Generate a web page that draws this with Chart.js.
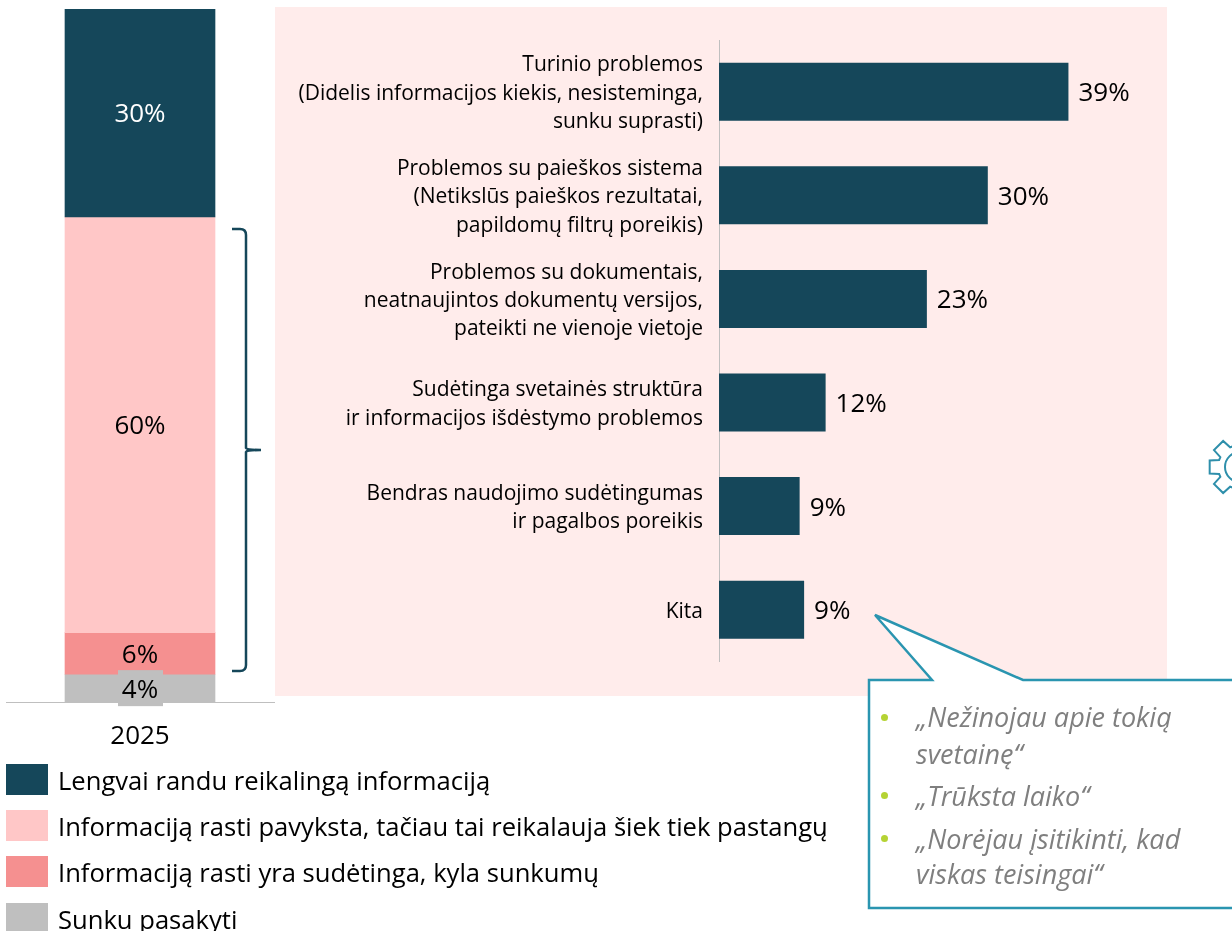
<!DOCTYPE html>
<html><head><meta charset="utf-8">
<script src="https://cdn.jsdelivr.net/npm/chart.js@4"></script>
<style>
html,body{margin:0;padding:0;background:#fff;width:1232px;height:931px;overflow:hidden;font-family:"Open Sans",sans-serif;color:#000}
#panel{position:absolute;left:275px;top:7px;width:892px;height:689px;background:#FFECEB}
canvas{position:absolute;display:block}
#c1{left:0;top:0}
#c2{left:275px;top:7px}
svg{position:absolute;left:0;top:0}
.lg{position:absolute;left:6px;width:42px;height:31px}
.lt{position:absolute;left:58px;font-size:25.6px;line-height:31px;white-space:nowrap}
.q{position:absolute;left:916px;font-size:27px;font-style:italic;color:#7F7F7F;white-space:nowrap;line-height:36px}
.b{position:absolute;left:881px;width:7px;height:7px;border-radius:50%;background:#B5D334}
</style></head><body>
<div id="panel"></div>
<canvas id="c1" width="275" height="760" style="width:275px;height:760px"></canvas>
<canvas id="c2" width="892" height="713" style="width:892px;height:713px"></canvas>
<svg id="ov" width="1232" height="931"></svg>
<div id="legend"></div>
<div id="quotes"></div>
<script>
const years = ['2025'];
const seriesNames = ['Lengvai randu reikalingą informaciją','Informaciją rasti pavyksta, tačiau tai reikalauja šiek tiek pastangų','Informaciją rasti yra sudėtinga, kyla sunkumų','Sunku pasakyti'];
const seriesValues = [30,60,6,4];
const seriesColors = ['#15475A','#FFC7C7','#F59090','#BFBFBF'];
const problemLabels = [
 ['Turinio problemos','(Didelis informacijos kiekis, nesisteminga,','sunku suprasti)'],
 ['Problemos su paieškos sistema','(Netikslūs paieškos rezultatai,','papildomų filtrų poreikis)'],
 ['Problemos su dokumentais,','neatnaujintos dokumentų versijos,','pateikti ne vienoje vietoje'],
 ['Sudėtinga svetainės struktūra','ir informacijos išdėstymo problemos'],
 ['Bendras naudojimo sudėtingumas','ir pagalbos poreikis'],
 ['Kita']];
const problemValues = [39,30,23.2,11.9,9,9.5];
const problemText = ['39%','30%','23%','12%','9%','9%'];
const quotes = [['„Nežinojau apie tokią',717],['svetainę“',754],['„Trūksta laiko“',796],['„Norėjau įsitikinti, kad',839],['viskas teisingai“',874]];
const bulletY = [717,795,838];
const FONT = '"Open Sans", sans-serif';

const stackLabels = {id:'stackLabels',afterDatasetsDraw(ch){
  const c=ch.ctx;c.save();c.textAlign='center';c.textBaseline='middle';c.font='26px '+FONT;
  ch.data.datasets.forEach((d,i)=>{
    const el=ch.getDatasetMeta(i).data[0];const y=(el.y+el.base)/2;
    if(i===3){c.fillStyle=seriesColors[3];c.fillRect(el.x-22,y-18,45,36);}
    c.fillStyle=i===0?'#fff':'#000';
    c.fillText(d.data[0]+'%',el.x,y+2);
  });c.restore();}};
new Chart(document.getElementById('c1'),{type:'bar',
 data:{labels:years,datasets:seriesNames.map((n,i)=>({label:n,data:[seriesValues[i]],backgroundColor:seriesColors[i],barThickness:150}))},
 plugins:[stackLabels],
 options:{responsive:false,animation:false,events:[],
  layout:{padding:{left:6,right:1,top:9,bottom:0}},
  plugins:{legend:{display:false},tooltip:{enabled:false}},
  scales:{
   x:{stacked:true,grid:{display:false,drawTicks:false},border:{color:'#BFBFBF',width:1},
      ticks:{color:'#000',font:{family:FONT,size:26},padding:19,maxRotation:0},
      afterFit(s){s.height=58;}},
   y:{stacked:true,reverse:true,min:0,max:100,display:false}
  }}});

const barLabels = {id:'barLabels',afterDatasetsDraw(ch){
  const c=ch.ctx;c.save();c.textAlign='left';c.textBaseline='middle';c.font='26px '+FONT;c.fillStyle='#000';
  ch.getDatasetMeta(0).data.forEach((el,i)=>c.fillText(problemText[i],el.x+10,el.y+2));
  c.restore();}};
new Chart(document.getElementById('c2'),{type:'bar',
 data:{labels:problemLabels,datasets:[{data:problemValues,backgroundColor:'#15475A',categoryPercentage:1,barPercentage:0.56}]},
 plugins:[barLabels],
 options:{indexAxis:'y',responsive:false,animation:false,events:[],
  layout:{padding:{top:33,bottom:13,left:0,right:0}},
  plugins:{legend:{display:false},tooltip:{enabled:false}},
  scales:{
   x:{min:0,max:50,display:false},
   y:{grid:{display:false,drawTicks:false},border:{color:'#BFBFBF',width:1},
      ticks:{color:'#000',autoSkip:false,padding:16,font:{family:FONT,size:21,lineHeight:1.35}},
      afterFit(s){
        s.width=444;
        const orig=s._computeLabelItems;
        if(orig&&!s._shifted){s._shifted=true;
          s._computeLabelItems=function(ca){const items=orig.call(this,ca);items.forEach(it=>{it.options.translation[1]+=2;});return items;};}
      }}
  }}});

document.getElementById('legend').innerHTML=seriesNames.map((n,i)=>{
  const t=764+i*46.2;
  return `<div class="lg" style="top:${t}px;background:${seriesColors[i]}"></div><div class="lt" style="top:${t+1}px">${n}</div>`;}).join('');
document.getElementById('quotes').innerHTML=
  quotes.map(q=>`<div class="q" style="top:${q[1]-18}px">${q[0]}</div>`).join('')+
  bulletY.map(y=>`<div class="b" style="top:${y-3}px"></div>`).join('');

let gear='';const gx=1240,gy=467;
for(let k=0;k<8;k++){const a=Math.PI+k*Math.PI/4;
  [[-0.32,22],[-0.21,31],[0.21,31],[0.32,22]].forEach(p=>{
    gear+=(gear?'L':'M')+(gx+p[1]*Math.cos(a+p[0]))+' '+(gy+p[1]*Math.sin(a+p[0]));});
}
document.getElementById('ov').innerHTML=`
<path d="M232 229 H240 Q246 229 246 235 V448 Q247 450 261 450 M261 450 Q247 450 246 452 V665 Q246 671 240 671 L232 671" fill="none" stroke="#15475A" stroke-width="2.5"/>
<path d="${gear}Z" fill="none" stroke="#2E8FAB" stroke-width="2"/>
<circle cx="${gx}" cy="${gy}" r="15" fill="none" stroke="#2E8FAB" stroke-width="2"/>
<path d="M869 680 H932 L875 615 L1023 680 H1240 V908 H869 Z" fill="#fff" stroke="#2A95B0" stroke-width="2.5"/>`;
</script></body></html>
